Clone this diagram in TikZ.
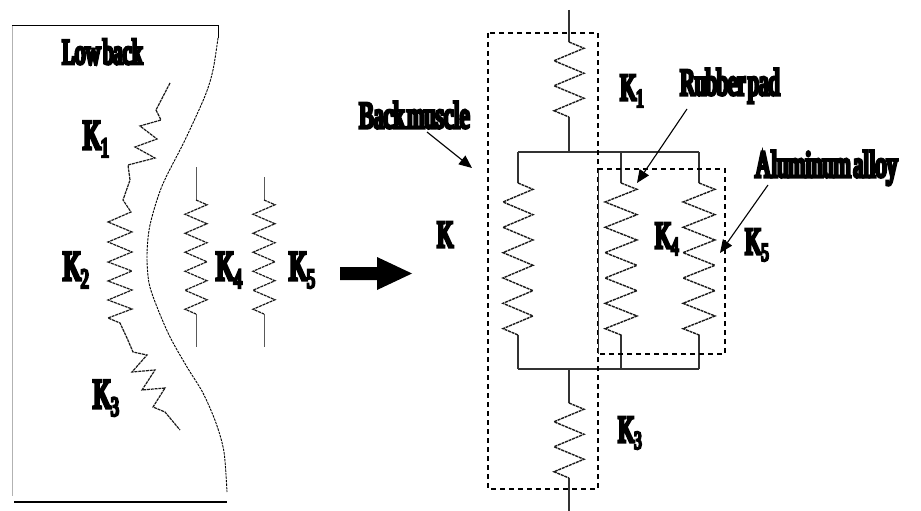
\documentclass[tikz,border=0pt]{standalone}
\usepackage{fontspec}
\usetikzlibrary{decorations.pathmorphing,arrows.meta}
\newfontfamily\lab{Liberation Serif}[FakeStretch=0.58,FakeBold=8,WordSpace=0.5]
% K with a lowered digit
\newcommand\bigK[1]{{\fontsize{42}{42}\selectfont K\raisebox{-8pt}{\fontsize{28}{28}\selectfont #1}}}
\newcommand\smallK[1]{{\fontsize{38}{38}\selectfont K\raisebox{-7pt}{\fontsize{26}{26}\selectfont #1}}}
\begin{document}
\begin{tikzpicture}[x=1pt,y=-1pt,
  lbl/.style={inner sep=0pt,anchor=base west,font=\lab},
  txt/.style={lbl,font=\lab\fontsize{38}{38}\selectfont},
  wire/.style={draw=black!80,line width=1.1pt},
  zz/.style 2 args={decorate,decoration={zigzag,segment length=#1,amplitude=#2}},
  coil/.style={draw=black!90,line width=1.4pt,dash pattern=on 3pt off 0.8pt},
  box/.style={draw=black,line width=1.2pt,dash pattern=on 5pt off 4pt},
  contour/.style={draw=black,line width=0.9pt,dash pattern=on 2.5pt off 1pt},
  pointer/.style={draw=black,line width=1.1pt,-{Triangle[length=13pt,width=11pt]}}]
\useasboundingbox (0,0) rectangle (921,511);

% ---------- low back sketch ----------
\draw[draw=black!30,line width=1pt] (12,26) -- (12,496);
\draw[line width=1pt] (12,26) -- (218,26) -- (218,38);
\draw[line width=1.6pt] (14,502) -- (227,502);
\draw[contour] plot[smooth] coordinates {(218,38) (213,70) (205,96) (185,140) (162,186) (150,225) (147,255) (149,283) (157,307) (170,337) (187,367) (203,393) (216,423) (224,452) (227,492)};

% muscle chain K1 - K2 - K3
\draw[coil,line width=1.2pt] (170,83) -- (156,110) -- (161,120) -- (140,126) -- (157,139) -- (135,147) -- (155,158) -- (128,165) -- (130,180) -- (123,200) -- (131,212)
  -- (108,222) -- (132,232) -- (108,242) -- (132,252) -- (108,262) -- (132,271) -- (108,281) -- (132,290) -- (108,300) -- (132,309) -- (108,318)
  -- (120,323) -- (127,338) -- (133,352) -- (147,355) -- (132,372) -- (155,370) -- (142,390) -- (165,388) -- (153,407) -- (165,412) -- (180,430);

% separate springs K4 and K5
\coordinate (a4) at (196,167); \coordinate (b4) at (196,200);
\coordinate (c4) at (196,314); \coordinate (d4) at (196,347);
\coordinate (a5) at (264,177); \coordinate (b5) at (264,200);
\coordinate (c5) at (264,314); \coordinate (d5) at (264,347);
\draw[draw=black!65,line width=1pt] (a4) -- (b4) (c4) -- (d4) (a5) -- (b5) (c5) -- (d5);
\draw[coil,line width=1.2pt,zz={19}{11}] (b4) -- (c4);
\draw[coil,line width=1.2pt,zz={19}{11}] (b5) -- (c5);

\node[lbl,font=\lab\fontsize{36}{36}\selectfont] (lowback) at (62,64) {Low back};
\node[lbl] (k1l) at (83,149) {\bigK{1}};
\node[lbl] (k2l) at (63,280) {\bigK{2}};
\node[lbl] (k3l) at (93,408) {\bigK{3}};
\node[lbl] (k4l) at (216,280) {\bigK{4}};
\node[lbl] (k5l) at (289,280) {\bigK{5}};

% block arrow
\fill (340,267) -- (377,267) -- (377,257) -- (412,273.5) -- (377,290) -- (377,280) -- (340,280) -- cycle;

% ---------- equivalent spring model ----------
\coordinate (t0) at (569,10); \coordinate (t1) at (569,42);
\coordinate (t2) at (569,117); \coordinate (t3) at (569,152);
\coordinate (u0) at (569,369); \coordinate (u1) at (569,403);
\coordinate (u2) at (569,478); \coordinate (u3) at (569,511);
\coordinate (L0) at (518,152); \coordinate (L1) at (518,183);
\coordinate (L2) at (518,335); \coordinate (L3) at (518,369);
\coordinate (M0) at (621,152); \coordinate (M1) at (621,183);
\coordinate (M2) at (621,335); \coordinate (M3) at (621,369);
\coordinate (R0) at (699,152); \coordinate (R1) at (699,183);
\coordinate (R2) at (699,335); \coordinate (R3) at (699,369);

\draw[wire] (t0) -- (t1) (t2) -- (t3);
\draw[wire] (u0) -- (u1) (u2) -- (u3);
\draw[wire] (L0) -- (R0) (L3) -- (R3);
\draw[wire] (L0) -- (L1) (L2) -- (L3) (M0) -- (M1) (M2) -- (M3) (R0) -- (R1) (R2) -- (R3);
\draw[coil,zz={25}{15}] (t1) -- (t2);
\draw[coil,zz={25}{15}] (u1) -- (u2);
\draw[coil,zz={25.33}{15}] (L1) -- (L2);
\draw[coil,zz={25.33}{16}] (M1) -- (M2);
\draw[coil,zz={25.33}{16}] (R1) -- (R2);

% outlines of back muscle and of the pad
\draw[box] (488,33) rectangle (598,489);
\draw[draw=black!80,line width=0.9pt] (598,169) -- (598,354);
\draw[box] (598,169) -- (725,169) -- (725,354) -- (598,354);

\node[lbl] (k1r) at (620,100) {\smallK{1}};
\node[lbl,font=\lab\fontsize{38}{38}\selectfont] (kr) at (437,247) {K};
\node[lbl] (k4r) at (655,248) {\smallK{4}};
\node[lbl] (k5r) at (745,254) {\smallK{5}};
\node[lbl] (k3r) at (618,442) {\smallK{3}};

\node[txt] (bm) at (359,128) {Back muscle};
\node[txt] (rp) at (680,95) {Rubber pad};
\node[txt] (al) at (755,177) {Aluminum alloy};

\coordinate (bmS) at (427,132); \coordinate (bmT) at (472,168);
\coordinate (rpS) at (687,109); \coordinate (rpT) at (637,183);
\coordinate (alS) at (768,185); \coordinate (alT) at (720,253);
\draw[pointer] (bmS) -- (bmT);
\draw[pointer] (rpS) -- (rpT);
\draw[pointer] (alS) -- (alT);
\end{tikzpicture}
\end{document}
